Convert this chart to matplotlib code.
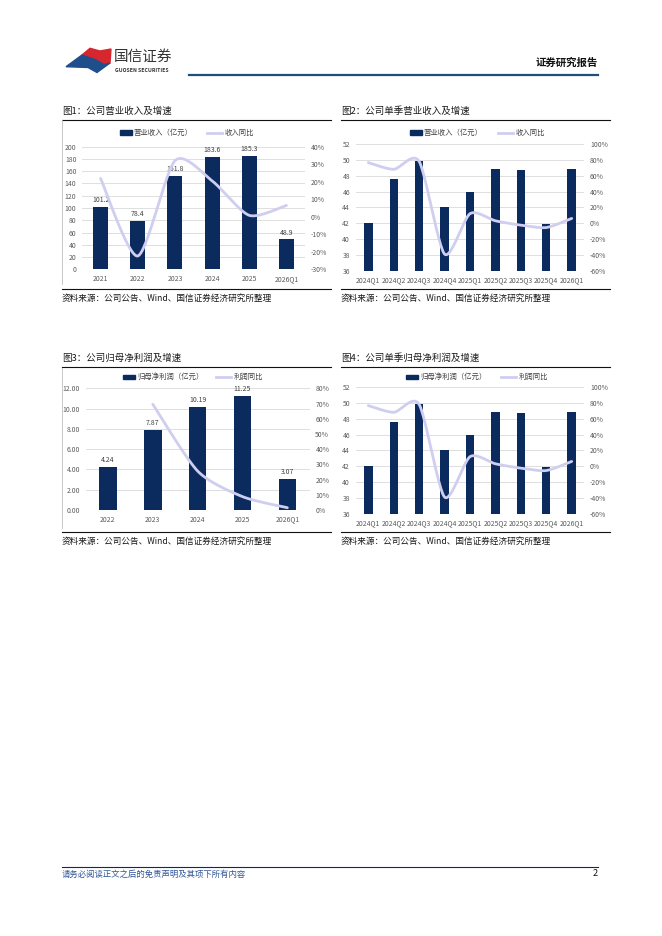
import matplotlib
matplotlib.use('Agg')
import matplotlib.pyplot as plt
from matplotlib.lines import Line2D
from matplotlib.patches import Rectangle, Polygon
import numpy as np

plt.rcParams['font.family'] = ['Noto Sans CJK SC', 'DejaVu Sans']

W, H = 662, 936

# 数据
years1 = ['2021', '2022', '2023', '2024', '2025', '2026Q1']
revenue = [101.2, 78.4, 151.8, 183.6, 185.3, 48.9]
revenue_yoy = [0.219, -0.224, 0.32, 0.205, 0.008, 0.065]

quarters = ['2024Q1', '2024Q2', '2024Q3', '2024Q4', '2025Q1', '2025Q2', '2025Q3', '2025Q4', '2026Q1']
q_revenue = [42.0, 47.6, 49.8, 44.1, 46.0, 48.8, 48.7, 41.9, 48.9]
q_revenue_yoy = [0.765, 0.68, 0.78, -0.39, 0.12, 0.03, -0.025, -0.055, 0.06]

years3 = ['2022', '2023', '2024', '2025', '2026Q1']
profit = [4.24, 7.87, 10.19, 11.25, 3.07]
profit_yoy = [np.nan, 0.695, 0.256, 0.088, 0.015]

q_profit = [42.0, 47.6, 49.8, 44.1, 46.0, 48.8, 48.7, 41.9, 48.9]
q_profit_yoy = [0.765, 0.68, 0.78, -0.39, 0.12, 0.03, -0.025, -0.055, 0.06]

BAR = '#0B2B5E'
LINE = '#CFCEF0'
GRID = '#D9D9D9'
TXT = '#595959'


def fx(x):
    return x / W


def fy(y):
    return 1 - y / H


def smooth(xs, ys, n=30, k=8.0):
    # 平滑线，控制点取相邻点差值的1/k
    xs = np.asarray(xs, float)
    ys = np.asarray(ys, float)
    px, py = [], []
    m = len(xs)
    for i in range(m - 1):
        p0 = (xs[max(i - 1, 0)], ys[max(i - 1, 0)])
        p1 = (xs[i], ys[i])
        p2 = (xs[i + 1], ys[i + 1])
        p3 = (xs[min(i + 2, m - 1)], ys[min(i + 2, m - 1)])
        c1 = (p1[0] + (p2[0] - p0[0]) / k, p1[1] + (p2[1] - p0[1]) / k)
        c2 = (p2[0] - (p3[0] - p1[0]) / k, p2[1] - (p3[1] - p1[1]) / k)
        t = np.linspace(0, 1, n)
        bx = (1 - t) ** 3 * p1[0] + 3 * (1 - t) ** 2 * t * c1[0] + 3 * (1 - t) * t ** 2 * c2[0] + t ** 3 * p2[0]
        by = (1 - t) ** 3 * p1[1] + 3 * (1 - t) ** 2 * t * c1[1] + 3 * (1 - t) * t ** 2 * c2[1] + t ** 3 * p2[1]
        px.extend(bx)
        py.extend(by)
    return px, py


fig = plt.figure(figsize=(6.62, 9.36), dpi=100)


def chart(box, cats, bars, yoy, ylim, yticks, yfmt, y2lim, y2ticks, width, labels=None):
    left, right, top, bottom = box
    ax = fig.add_axes([fx(left), fy(bottom), (right - left) / W, (bottom - top) / H])
    x = np.arange(len(cats))
    ax.bar(x, np.array(bars) - ylim[0], width, bottom=ylim[0], color=BAR, zorder=2)
    ax.set_xlim(-0.5, len(cats) - 0.5)
    ax.set_ylim(*ylim)
    ax.set_yticks(yticks)
    ax.set_yticklabels([yfmt.format(v) for v in yticks])
    ax.set_xticks(x)
    ax.set_xticklabels(cats)
    for v in yticks:
        ax.axhline(v, color=GRID, lw=0.6, zorder=0)
    for s in ax.spines.values():
        s.set_visible(False)
    ax.tick_params(length=0, labelsize=4.9, colors=TXT, pad=4)
    if labels:
        for xi, v in zip(x, bars):
            ax.annotate(labels.format(v), (xi, v), xytext=(0, 2), textcoords='offset points',
                        ha='center', va='bottom', fontsize=5, color='#404040')
    ax2 = ax.twinx()
    ax2.set_ylim(*y2lim)
    ax2.set_yticks(y2ticks)
    ax2.set_yticklabels(['{:.0f}%'.format(v * 100) for v in y2ticks])
    for s in ax2.spines.values():
        s.set_visible(False)
    ax2.tick_params(length=0, labelsize=4.9, colors=TXT, pad=4)
    yv = np.array(yoy, float)
    ok = ~np.isnan(yv)
    sx, sy = smooth(x[ok], yv[ok])
    ax2.plot(sx, sy, color=LINE, lw=2.0, solid_capstyle='round', zorder=3)
    return ax


def legend(y, bx, blabel, lx, llabel):
    fig.add_artist(Rectangle((fx(bx), fy(y + 2)), 12 / W, 4.5 / H, color=BAR, transform=fig.transFigure))
    fig.text(fx(bx + 14), fy(y), blabel, fontsize=5.3, color='#404040', va='center')
    fig.add_artist(Line2D([fx(lx), fx(lx + 15)], [fy(y), fy(y)], color=LINE, lw=2.0, transform=fig.transFigure))
    fig.text(fx(lx + 18), fy(y), llabel, fontsize=5.3, color='#404040', va='center')


def frame(x0, x1, ytitle, yrule, ybottom, ysrc, title, vline=None):
    fig.text(fx(x0), fy(ytitle), title, fontsize=6.8, color='#1a1a1a', va='center')
    fig.add_artist(Line2D([fx(x0), fx(x1)], [fy(yrule), fy(yrule)], color='#111111', lw=0.8, transform=fig.transFigure))
    fig.add_artist(Line2D([fx(x0), fx(x1)], [fy(ybottom), fy(ybottom)], color='#111111', lw=0.8, transform=fig.transFigure))
    fig.text(fx(x0), fy(ysrc), '资料来源：公司公告、Wind、国信证券经济研究所整理', fontsize=6.2, color='#1a1a1a', va='center')
    if vline:
        fig.add_artist(Line2D([fx(x0), fx(x0)], [fy(vline[0]), fy(vline[1])], color='#BFBFBF', lw=0.6, transform=fig.transFigure))


# 图1
frame(62, 331, 111, 119.5, 289, 298, '图1：公司营业收入及增速', vline=(120, 284))
chart((82, 305, 146.7, 269.3), years1, revenue, revenue_yoy, (0, 200), list(range(0, 201, 20)), '{:.0f}',
      (-0.3, 0.4), [-0.3, -0.2, -0.1, 0, 0.1, 0.2, 0.3, 0.4], 0.4, labels='{:.1f}')
legend(133, 120, '营业收入（亿元）', 207, '收入同比')

# 图2
frame(341, 610, 111, 119.5, 289, 298, '图2：公司单季营业收入及增速')
chart((355.6, 584.4, 144, 270.7), quarters, q_revenue, q_revenue_yoy, (36, 52), list(range(36, 53, 2)), '{:.0f}',
      (-0.6, 1.0), [-0.6, -0.4, -0.2, 0, 0.2, 0.4, 0.6, 0.8, 1.0], 0.33)
legend(133, 410, '营业收入（亿元）', 498, '收入同比')

# 图3
frame(62, 331, 358, 367, 532, 541.5, '图3：公司归母净利润及增速', vline=(368, 528))
chart((85.5, 309.8, 388.3, 510), years3, profit, profit_yoy, (0, 12), list(range(0, 13, 2)), '{:.2f}',
      (0, 0.8), [0, 0.1, 0.2, 0.3, 0.4, 0.5, 0.6, 0.7, 0.8], 0.39, labels='{:.2f}')
legend(377, 123, '归母净利润（亿元）', 216, '利润同比')

# 图4
frame(341, 610, 358, 367, 532, 541.5, '图4：公司单季归母净利润及增速')
chart((355.6, 584.4, 387, 513.7), quarters, q_profit, q_profit_yoy, (36, 52), list(range(36, 53, 2)), '{:.0f}',
      (-0.6, 1.0), [-0.6, -0.4, -0.2, 0, 0.2, 0.4, 0.6, 0.8, 1.0], 0.33)
legend(377, 406, '归母净利润（亿元）', 501, '利润同比')

# 页眉
red = [(82, 55), (90, 48.3), (100, 51), (111, 49), (110, 63), (104, 64.5), (96, 60)]
blue = [(66, 66.7), (82, 55), (96, 60), (104, 64.5), (110, 63), (97, 72.5), (88, 67.5)]
fig.add_artist(Polygon([(fx(a), fy(b)) for a, b in red], closed=True, color='#D7262E', transform=fig.transFigure))
fig.add_artist(Polygon([(fx(a), fy(b)) for a, b in blue], closed=True, color='#1F4E8C', transform=fig.transFigure))
fig.text(fx(114), fy(57), '国信证券', fontsize=10.5, color='#333333', va='center')
fig.text(fx(115), fy(71), 'GUOSEN SECURITIES', fontsize=3.7, color='#333333', va='center', weight='bold')
fig.add_artist(Line2D([fx(189), fx(598)], [fy(75), fy(75)], color='#1F4E79', lw=1.6, transform=fig.transFigure))
fig.text(fx(598), fy(63), '证券研究报告', fontsize=7.5, color='#111111', va='center', ha='right', weight='bold')

# 页脚
fig.add_artist(Line2D([fx(62), fx(598)], [fy(867), fy(867)], color='#0B2B5E', lw=0.8, transform=fig.transFigure))
fig.text(fx(62), fy(874), '请务必阅读正文之后的免责声明及其项下所有内容', fontsize=6, color='#2F5597', va='center', style='italic')
fig.text(fx(598), fy(874), '2', fontsize=6.5, color='#111111', va='center', ha='right')

fig.savefig('out.png', dpi=100)
